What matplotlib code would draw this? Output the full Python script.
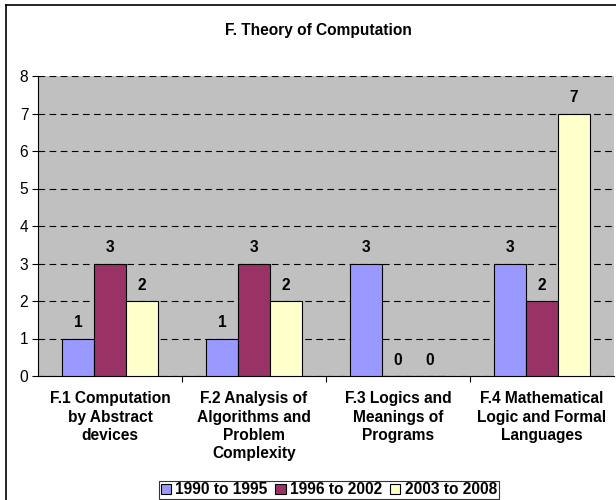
import matplotlib
matplotlib.use("Agg")
import matplotlib.pyplot as plt
import numpy as np
from matplotlib.patches import Patch
from matplotlib.lines import Line2D

title = "F. Theory of Computation"
categories = ["F.1 Computation\nby Abstract\ndevices",
              "F.2 Analysis of\nAlgorithms and\nProblem\nComplexity",
              "F.3 Logics and\nMeanings of\nPrograms",
              "F.4 Mathematical\nLogic and Formal\nLanguages"]
series_names = ["1990 to 1995", "1996 to 2002", "2003 to 2008"]
s1990 = [1, 1, 3, 3]
s1996 = [3, 3, 0, 2]
s2003 = [2, 2, 0, 7]
colors = ["#9999FF", "#993366", "#FFFFCC"]

plt.rcParams['font.family'] = ['Liberation Sans', 'DejaVu Sans']
FS = 11.2

W, H = 616, 500
fig = plt.figure(figsize=(W/100, H/100), dpi=100)
fig.patch.set_facecolor("white")

# figure border (left and top visible)
fig.add_artist(Line2D([6/W, 6/W], [0, 1 - 5/H], transform=fig.transFigure, color="black", lw=1.2))
fig.add_artist(Line2D([6/W, 1], [1 - 5/H, 1 - 5/H], transform=fig.transFigure, color="black", lw=1.2))

left, right, top, bottom = 38, 614, 76, 376
ax = fig.add_axes([left/W, 1 - bottom/H, (right-left)/W, (bottom-top)/H])
ax.set_facecolor("#C0C0C0")

n = len(categories)
x = np.arange(n)
bw = 1/4.5
all_series = [s1990, s1996, s2003]
for i, (vals, c) in enumerate(zip(all_series, colors)):
    pos = x + (i - 1) * bw
    ax.bar(pos, vals, width=bw, color=c, edgecolor="black", linewidth=0.8, zorder=3)
    for p, v in zip(pos, vals):
        ax.annotate(str(v), (p, v), xytext=(0, 6), textcoords="offset points",
                    ha="center", va="bottom", fontsize=FS, fontweight="bold", zorder=4)

ax.set_xlim(-0.5, n - 0.5)
ax.set_ylim(0, 8)
ax.set_yticks(range(0, 9))
ax.yaxis.grid(True, color="black", linestyle=(0, (6, 4)), linewidth=0.8, zorder=1)
ax.set_axisbelow(True)
ax.tick_params(axis="y", labelsize=FS, length=4, direction="out", pad=3)

ax.set_xticks(np.arange(0.5, n - 0.5, 1), minor=False)
ax.set_xticklabels([])
ax.tick_params(axis="x", length=4, direction="out")
for xi, lab in zip(x, categories):
    ax.annotate(lab, (xi, 0), xytext=(0, -11), textcoords="offset points",
                ha="center", va="top", fontsize=FS, fontweight="bold",
                linespacing=1.27)

for s in ["top", "right"]:
    ax.spines[s].set_visible(False)
ax.spines["left"].set_color("black")
ax.spines["bottom"].set_color("black")

fig.text(318/W, 1 - 31/H, title, ha="center", va="center", fontsize=FS, fontweight="bold")

handles = [Patch(facecolor=c, edgecolor="black", linewidth=0.8) for c in colors]
leg = fig.legend(handles, series_names, loc="center", bbox_to_anchor=(329/W, 1 - 490/H),
                 ncol=3, frameon=True, fancybox=False, edgecolor="black",
                 prop={"size": FS, "weight": "bold"}, handlelength=0.65, handleheight=0.65,
                 handletextpad=0.3, columnspacing=0.5, borderpad=0.12, borderaxespad=0)
leg.get_frame().set_linewidth(0.8)

fig.savefig("out.png", dpi=100)
